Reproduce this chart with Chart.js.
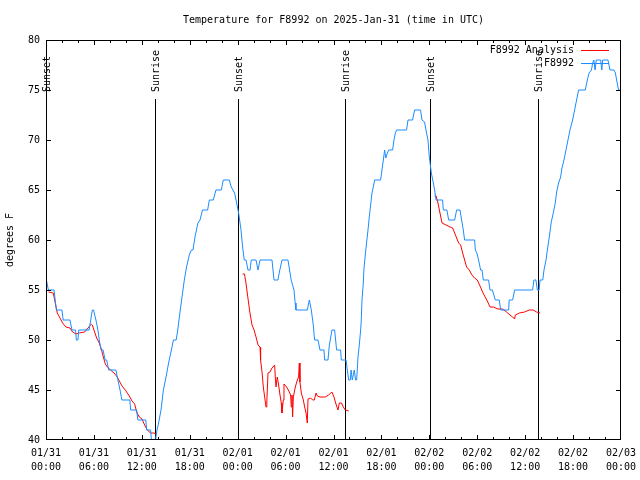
<!DOCTYPE html>
<html>
<head>
<meta charset="utf-8">
<title>Temperature for F8992</title>
<script src="https://cdn.jsdelivr.net/npm/chart.js@4/dist/chart.umd.min.js"></script>
<style>
  html, body { margin: 0; padding: 0; background: #fff; }
  canvas { display: block; }
</style>
</head>
<body>
<canvas id="tempChart" width="640" height="480"></canvas>
<script>
// hours since 2025-01-31 00:00 UTC
const obsHours = [
  0.05, 0.3, 1.0, 1.3, 2.0, 2.15, 3.0, 3.25, 3.7, 3.8, 4.0, 4.1, 5.4, 5.6, 5.8, 5.95,
  6.25, 6.5, 6.67, 6.9, 7.15, 7.4, 7.6, 7.85, 8.75, 9.0, 9.27, 9.5, 10.5, 10.6, 11.35, 11.5,
  12.5, 12.6, 13.1, 13.2, 13.35, 13.65, 13.8, 13.9, 14.1, 14.4, 14.7, 15.03, 15.35, 15.7,
  15.95, 16.3, 16.5, 16.7, 17.03, 17.32, 17.6, 17.94, 18.2, 18.4, 18.7, 19.03, 19.28, 19.6,
  20.24, 20.45, 20.95, 21.28, 21.95, 22.2, 22.95, 23.2, 23.62, 23.87, 24.12, 24.42, 24.62,
  24.83, 25.05, 25.29, 25.55, 25.7, 26.3, 26.55, 26.8, 28.3, 28.55, 29.05, 29.2, 29.55, 30.3,
  30.7, 31.05, 31.2, 31.3, 32.72, 32.97, 33.22, 33.47, 33.63, 34.06, 34.31, 34.81, 34.89,
  35.31, 35.48, 35.81, 36.14, 36.39, 36.89, 36.98, 37.57, 37.73, 37.9, 38.1, 38.2, 38.35,
  38.6, 38.77, 38.9, 39.07, 39.23, 39.4, 39.48, 39.57, 39.73, 39.82, 39.98, 40.15, 40.32,
  40.48, 40.65, 40.82, 40.98, 41.15, 41.9, 42.07, 42.24, 42.4, 42.55, 42.75, 42.9, 43.4,
  43.57, 43.75, 43.9, 45.15, 45.33, 45.9, 46.16, 46.9, 47.08, 47.4, 47.58, 47.83, 48.0,
  48.25, 48.5, 48.66, 48.84, 49.66, 49.75, 50.2, 50.42, 51.17, 51.42, 51.84, 52.0, 52.25,
  52.42, 53.67, 53.76, 53.95, 54.17, 54.42, 54.6, 54.76, 55.42, 55.6, 55.9, 56.26, 56.76,
  56.93, 57.93, 58.0, 58.43, 58.68, 60.93, 61.1, 61.35, 61.52, 61.75, 61.86, 62.2, 62.36,
  62.61, 62.78, 63.02, 63.27, 63.52, 63.77, 63.94, 64.19, 64.44, 64.61, 64.86, 65.11, 65.36,
  65.61, 65.94, 66.19, 66.44, 66.69, 67.53, 67.78, 68.0, 68.3, 68.45, 68.6, 68.75, 68.9,
  69.45, 69.6, 69.7, 70.37, 70.62, 71.12, 71.3, 71.45, 71.7, 71.85
];
const obsTemps = [
  56, 55, 55, 53, 53, 52, 52, 51, 51, 50, 50, 51, 51, 52, 53, 53,
  52, 51, 50, 49, 49, 48, 48, 47, 47, 46, 45, 44, 44, 43, 43, 42,
  42, 41, 41, 40, 39.5, 39.5, 40.5, 41, 41.7, 43, 45, 46.3, 47.7, 49,
  50, 50, 51, 52.3, 54.3, 56, 57.3, 58.5, 59, 59, 60.5, 61.7, 62, 63,
  63, 64, 64, 65, 65, 66, 66, 65.3, 64.7, 63.7, 62.7, 61, 59.3,
  58, 58, 57, 57, 58, 58, 57, 58, 58, 56, 56, 56.7, 58, 58,
  56, 55, 53.7, 53, 53, 54, 53, 51.5, 50, 50, 49, 49, 48,
  48, 49.5, 51, 51, 49, 49, 48, 48, 47, 46, 46, 47, 46,
  47, 46, 46, 48.3, 49.5, 51, 52, 54, 55.7, 57.2, 58.5, 59.8, 61,
  62.3, 63.5, 64.7, 65.3, 66, 66, 67, 68, 69, 68.2, 68.7, 69, 69,
  70, 70.7, 71, 71, 72, 72, 73, 73, 72, 71.8, 71, 70, 68.3,
  66.7, 65.7, 65, 64, 64, 63, 63, 62, 62, 63, 63, 62.2, 61,
  60, 60, 59, 58.7, 58, 57, 57, 56, 56, 55, 55, 54, 54,
  53, 53, 54, 54, 55, 55, 56, 56, 55, 55, 56, 56, 57,
  58, 59, 60.3, 61.8, 62.7, 63.7, 64.8, 65.7, 66.3, 67.2, 68, 69, 70,
  71, 72, 73, 74, 75, 75, 76, 76.7, 77, 77.7, 78, 77, 78,
  78, 77, 78, 78, 77, 77, 76.7, 76, 75, 75
];

// analysis series, null marks a gap between runs
const anaHours = [
  0.33, 0.91, 1.16, 1.41, 1.75, 2.08, 2.5, 3.0, 3.33, 3.76, 4.17, 4.84, 5.26, 5.67, 5.8,
  6.09, 6.34, 6.67, 6.92, 7.18, 7.43, 7.68, 8.09, 8.51, 8.84, 9.18, 9.52, 10.02, 10.43,
  10.77, 11.1, 11.35, 11.68, 12.02, 12.35, 12.68, 13.1, 13.52, 13.77, 14.0,
  24.62, 24.85, 25.04, 25.2, 25.37, 25.54, 25.8, 26.05, 26.3, 26.55, 26.8, 26.87, 27.05,
  27.21, 27.38, 27.55, 27.65, 27.8, 28.05, 28.3, 28.63, 28.71, 28.8, 28.96, 29.13, 29.3,
  29.46, 29.55, 29.71, 29.8, 30.13, 30.47, 30.63, 30.71, 30.8, 30.88, 30.97, 31.22, 31.47,
  31.63, 31.72, 31.8, 31.97, 32.22, 32.39, 32.56, 32.72, 32.81, 33.14, 33.39, 33.6, 33.81,
  33.97, 34.31, 34.97, 35.39, 35.81, 36.06, 36.31, 36.56, 36.73, 37.0, 37.23, 37.48, 37.9, 38.2,
  48.66, 48.85, 49.08, 49.33, 49.59, 50.09, 50.59, 50.92, 51.17, 51.42, 51.67, 51.92, 52.17,
  52.42, 52.67, 53.0, 53.34, 53.67, 54.0, 54.35, 54.67, 54.92, 55.26, 55.6, 56.01, 56.6,
  57.17, 57.68, 58.1, 58.43, 58.68, 58.77, 59.27, 59.93, 60.52, 61.0, 61.43, 61.86
];
const anaTemps = [
  54.8, 54.7, 53.7, 52.7, 52.2, 51.7, 51.3, 51.2, 50.8, 50.6, 50.7, 50.8, 51.2, 51.6, 51.5,
  50.8, 50.2, 49.7, 49.1, 48.3, 47.6, 47.3, 47, 46.7, 46.4, 45.9, 45.4, 44.9, 44.4,
  43.9, 43.6, 42.8, 42.3, 42.1, 41.5, 41, 40.7, 40.7, 40.6, null,
  56.6, 56.6, 55.7, 54.7, 53.7, 52.7, 51.5, 51, 50.3, 49.5, 49.3, 48, 46.8,
  45.3, 44.3, 43.3, 43.8, 46.7, 46.8, 47.2, 47.5, 46.3, 45.3, 46.3, 45.5, 44.5,
  43.7, 42.7, 44, 45.6, 45.3, 44.8, 44.5, 43.3, 44.5, 42.3, 44.3, 45.3, 46,
  46.3, 47.7, 45.8, 44.7, 44, 43.3, 42.7, 41.7, 44.1, 44.2, 44, 44, 44.7,
  44.4, 44.3, 44.3, 44.5, 44.8, 44.3, 43.6, 43, 43.7, 43.7, 43.3, 43, 42.9, null,
  64.4, 64.4, 63.7, 62.7, 61.7, 61.5, 61.3, 61.2, 60.7, 60.2, 59.7, 59.5, 58.7,
  58, 57.3, 57, 56.5, 56.2, 56, 55.4, 54.8, 54.4, 53.9, 53.3, 53.3, 53.1,
  53.1, 52.8, 52.5, 52.3, 52.1, 52.5, 52.7, 52.8, 53, 53, 52.8, 52.7
];

const sunHours = [0.0, 13.6, 24.05, 37.5, 48.05, 61.6];
const sunLabels = ['Sunset', 'Sunrise', 'Sunset', 'Sunrise', 'Sunset', 'Sunrise'];

const xTickLabels = [
  ['01/31', '00:00'], ['01/31', '06:00'], ['01/31', '12:00'], ['01/31', '18:00'],
  ['02/01', '00:00'], ['02/01', '06:00'], ['02/01', '12:00'], ['02/01', '18:00'],
  ['02/02', '00:00'], ['02/02', '06:00'], ['02/02', '12:00'], ['02/02', '18:00'],
  ['02/03', '00:00']
];

const titleText = 'Temperature for F8992 on 2025-Jan-31 (time in UTC)';
const yLabelText = 'degrees F';
const MONO = '10px "DejaVu Sans Mono", "Liberation Mono", monospace';

function toPoints(xs, ys) {
  return xs.map((h, i) => ({ x: h, y: ys[i] }));
}

const decor = {
  id: 'decor',
  beforeDatasetsDraw(chart) {
    const { ctx, chartArea: a, scales: { x } } = chart;
    ctx.save();
    ctx.strokeStyle = '#000';
    ctx.fillStyle = '#000';
    ctx.lineWidth = 1;
    ctx.font = MONO;
    sunHours.forEach((h, i) => {
      const px = Math.round(x.getPixelForValue(h)) + 0.5;
      ctx.beginPath();
      ctx.moveTo(px, a.top + 59);
      ctx.lineTo(px, a.bottom);
      ctx.stroke();
      ctx.save();
      ctx.translate(px + 1, a.top + 52);
      ctx.rotate(-Math.PI / 2);
      ctx.textAlign = 'left';
      ctx.textBaseline = 'middle';
      ctx.fillText(sunLabels[i], 0, 0);
      ctx.restore();
    });
    ctx.restore();
  },
  afterDatasetsDraw(chart) {
    const { ctx, chartArea: a, scales: { x, y } } = chart;
    ctx.save();
    ctx.strokeStyle = '#000';
    ctx.lineWidth = 1;
    // frame
    ctx.strokeRect(a.left + 0.5, a.top + 0.5, a.right - a.left - 1, a.bottom - a.top - 1);
    // tics, inward on all sides
    ctx.beginPath();
    for (let h = 2; h < 72; h += 2) {
      const px = Math.round(x.getPixelForValue(h)) + 0.5;
      const len = h % 6 === 0 ? 5 : 3;
      ctx.moveTo(px, a.bottom);
      ctx.lineTo(px, a.bottom - len);
      ctx.moveTo(px, a.top);
      ctx.lineTo(px, a.top + len);
    }
    for (let v = 45; v < 80; v += 5) {
      const py = Math.round(y.getPixelForValue(v)) + 0.5;
      ctx.moveTo(a.left, py);
      ctx.lineTo(a.left + 5, py);
      ctx.moveTo(a.right, py);
      ctx.lineTo(a.right - 5, py);
    }
    ctx.stroke();

    ctx.font = MONO;
    ctx.fillStyle = '#000';
    // title
    ctx.textAlign = 'center';
    ctx.textBaseline = 'middle';
    ctx.fillText(titleText, (a.left + a.right) / 2, 20);
    // y axis label
    ctx.save();
    ctx.translate(10, (a.top + a.bottom) / 2);
    ctx.rotate(-Math.PI / 2);
    ctx.fillText(yLabelText, 0, 0);
    ctx.restore();
    // key
    ctx.textAlign = 'right';
    chart.data.datasets.forEach((ds, i) => {
      const ty = a.top + 10 + i * 13;
      ctx.fillStyle = '#000';
      ctx.fillText(ds.label, a.right - 47, ty);
      ctx.strokeStyle = ds.borderColor;
      ctx.beginPath();
      ctx.moveTo(a.right - 40, Math.round(ty) + 0.5);
      ctx.lineTo(a.right - 12, Math.round(ty) + 0.5);
      ctx.stroke();
    });
    ctx.restore();
  }
};

new Chart(document.getElementById('tempChart'), {
  type: 'line',
  data: {
    datasets: [
      {
        label: 'F8992 Analysis',
        data: toPoints(anaHours, anaTemps),
        borderColor: '#ff0000',
        borderWidth: 1,
        pointRadius: 0,
        tension: 0,
        spanGaps: false,
        order: 1
      },
      {
        label: 'F8992',
        data: toPoints(obsHours, obsTemps),
        borderColor: '#1a8cff',
        borderWidth: 1,
        pointRadius: 0,
        tension: 0,
        order: 0
      }
    ]
  },
  options: {
    responsive: false,
    animation: false,
    devicePixelRatio: 1,
    layout: { padding: { top: 40, right: 19, left: 0, bottom: 0 } },
    plugins: {
      legend: { display: false },
      title: { display: false },
      tooltip: { enabled: false }
    },
    scales: {
      x: {
        type: 'linear',
        min: 0,
        max: 72,
        grid: { display: false, drawTicks: false },
        border: { display: false },
        afterFit: s => {
          s.height = 40;
          s.paddingLeft = 0;
          s.paddingRight = 0;
        },
        afterBuildTicks: s => { s.ticks = xTickLabels.map((_, i) => ({ value: i * 6 })); },
        ticks: {
          autoSkip: false,
          maxRotation: 0,
          padding: 7,
          color: '#000',
          font: { family: '"DejaVu Sans Mono", monospace', size: 10, lineHeight: 1.35 },
          callback: (v) => xTickLabels[Math.round(v / 6)]
        }
      },
      y: {
        min: 40,
        max: 80,
        grid: { display: false, drawTicks: false },
        border: { display: false },
        afterFit: s => {
          s.width = 46;
          s.paddingTop = 0;
          s.paddingBottom = 0;
        },
        ticks: {
          stepSize: 5,
          padding: 6,
          color: '#000',
          font: { family: '"DejaVu Sans Mono", monospace', size: 10 }
        }
      }
    }
  },
  plugins: [decor]
});
</script>
</body>
</html>
